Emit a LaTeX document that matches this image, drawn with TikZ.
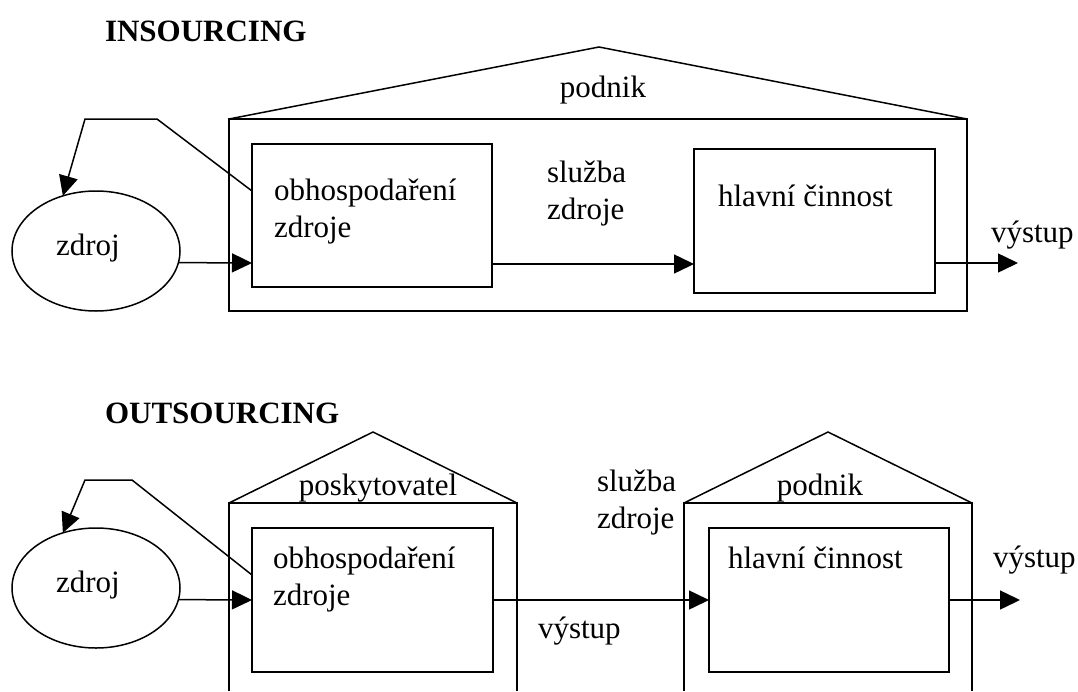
\documentclass[tikz,border=0pt]{standalone}
\usepackage{fontspec}
\setmainfont{Liberation Serif}
\usetikzlibrary{arrows.meta, shapes.geometric}
\begin{document}
\begin{tikzpicture}[x=1pt, y=-1pt,
  every node/.style={font=\fontsize{31}{37}\selectfont, inner sep=0pt, outer sep=0pt},
  title/.style={anchor=base west, font=\fontsize{31}{37}\selectfont\bfseries},
  txt/.style={anchor=base west},
  ctxt/.style={anchor=base},
  box/.style={draw, rectangle, line width=1.8pt},
  oval/.style={draw, ellipse, line width=1.5pt},
  wall/.style={line width=1.8pt, line join=miter},
  roof/.style={line width=1.5pt, line join=miter},
  arr/.style={-{Triangle[length=20pt, width=19pt]}, line width=1.5pt}
]
\useasboundingbox (0,0) rectangle (1078,691);

% ---------- insourcing ----------
\node[title] (tin) at (105,41) {INSOURCING};

\node[box, minimum width=738pt, minimum height=192pt] (firm1) at (598,215) {};
\coordinate (apex1) at (599,47);
\draw[roof] (firm1.north west) -- (apex1) -- (firm1.north east);
\node[ctxt] (lfirm1) at (603,97) {podnik};

\node[oval, minimum width=168pt, minimum height=120pt] (src1) at (96,251) {};
\node[ctxt] (lsrc1) at (88,255) {zdroj};

\node[box, minimum width=240pt, minimum height=143pt] (mgmt1) at (372,215.5) {};
\node[txt] (lmgmt1a) at (274,200) {obhospodaření};
\node[txt] (lmgmt1b) at (274,237) {zdroje};

\node[box, minimum width=241pt, minimum height=144pt] (core1) at (814.5,221) {};
\node[txt] (lcore1) at (718,206) {hlavní činnost};

\node[txt] (lsvc1a) at (547,182) {služba};
\node[txt] (lsvc1b) at (547,219) {zdroje};

\coordinate (out1) at (1018,263);
\node[txt] (lout1) at (991,242) {výstup};

\draw[arr] (src1.-8) -- (mgmt1.west |- 0,263);
\draw[arr] (mgmt1.east |- 0,264) -- (core1.west |- 0,264);
\draw[arr] (core1.east |- out1) -- (out1);
\draw[arr] (mgmt1.west |- 0,191) -- (157,119) -- (85,119) -- (src1.121);

% ---------- outsourcing ----------
\node[title] (tout) at (105,423) {OUTSOURCING};

% provider house (open at the bottom)
\coordinate (apex2) at (373,432);
\draw[wall] (229,691) -- (229,503) -- (517,503) -- (517,691);
\draw[roof] (229,503) -- (apex2) -- (517,503);
\node[ctxt] (lprov) at (378,495) {poskytovatel};

% firm house (open at the bottom)
\coordinate (apex3) at (828,432);
\draw[wall] (684,691) -- (684,503) -- (972,503) -- (972,691);
\draw[roof] (684,503) -- (apex3) -- (972,503);
\node[ctxt] (lfirm2) at (820,495) {podnik};

\node[oval, minimum width=168pt, minimum height=120pt] (src2) at (96,588) {};
\node[ctxt] (lsrc2) at (88,592) {zdroj};

\node[box, minimum width=241pt, minimum height=144pt] (mgmt2) at (372.5,600) {};
\node[txt] (lmgmt2a) at (273,568) {obhospodaření};
\node[txt] (lmgmt2b) at (273,605) {zdroje};

\node[box, minimum width=240pt, minimum height=144pt] (core2) at (829,600) {};
\node[txt] (lcore2) at (728,568) {hlavní činnost};

\node[txt] (lsvc2a) at (597,491) {služba};
\node[txt] (lsvc2b) at (597,528) {zdroje};
\node[txt] (lmid) at (538,638) {výstup};

\coordinate (out2) at (1020,600);
\node[txt] (lout2) at (993,567) {výstup};

\draw[arr] (src2.-8) -- (mgmt2.west);
\draw[arr] (mgmt2.east) -- (core2.west);
\draw[arr] (core2.east) -- (out2);
\draw[arr] (mgmt2.west |- 0,575) -- (132,480) -- (85,480) -- (src2.121);
\end{tikzpicture}
\end{document}
